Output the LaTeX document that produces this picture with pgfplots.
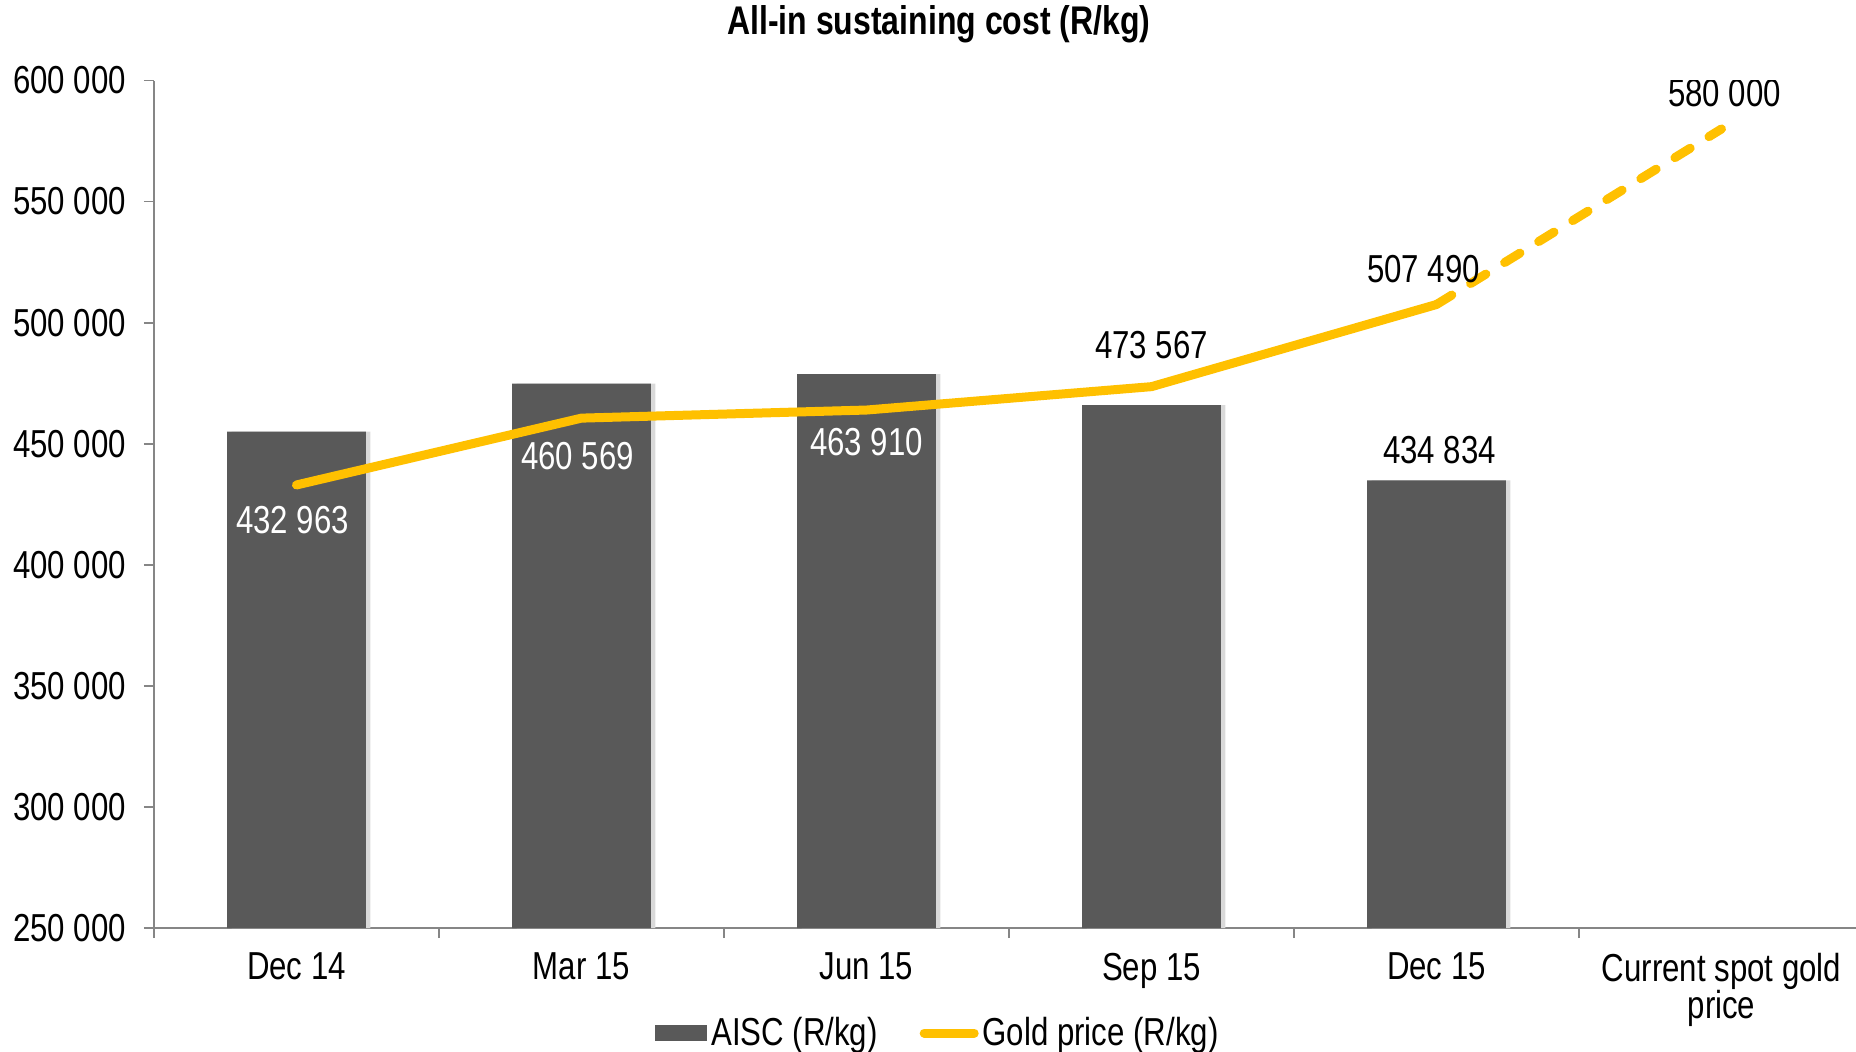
\documentclass[border=0pt]{standalone}
\usepackage{fontspec}
\setmainfont{Liberation Sans}[FakeStretch=0.8]
\usepackage{pgfplots}
\pgfplotsset{compat=1.18}
\definecolor{barc}{HTML}{595959}
\definecolor{goldc}{HTML}{FFC000}
\definecolor{axisc}{HTML}{868686}
\newcommand{\lab}{\fontsize{19.5}{18.5}\selectfont}
\begin{document}
\begin{tikzpicture}
\useasboundingbox (-77pt,-61.5pt) rectangle (851pt,464pt);
\begin{axis}[
  at={(0pt,0pt)}, anchor=south west,
  scale only axis, width=855pt, height=423.75pt,
  xmin=-0.5, xmax=5.5, ymin=250000, ymax=600000,
  scaled y ticks=false,
  axis lines=left,
  axis line style={-, draw=axisc, line width=0.9pt},
  tick align=outside,
  xtick={0,1,2,3,4,5},
  xticklabels={Dec 14, Mar 15, Jun 15, Sep 15, Dec 15, {Current spot gold\\price}},
  minor xtick={-0.5,0.5,1.5,2.5,3.5,4.5,5.5},
  major x tick style={draw=none},
  minor x tick style={draw=axisc, line width=0.9pt},
  minor tick length=5pt,
  major tick length=5pt,
  ytick={250000,300000,350000,400000,450000,500000,550000,600000},
  yticklabels={250 000,300 000,350 000,400 000,450 000,500 000,550 000,600 000},
  y tick style={draw=axisc, line width=0.9pt},
  xticklabel style={font=\lab, align=center, text=black, yshift=-4pt},
  yticklabel style={font=\lab, text=black, xshift=-5.5pt},
  title={All-in sustaining cost (R/kg)},
  title style={font=\bfseries\fontsize{20}{24}\selectfont, at={(0.459,1)}, anchor=base, yshift=17pt},
  legend style={at={(0.459,-0.124)}, anchor=center, draw=none, fill=none,
    legend columns=2, font=\lab, inner sep=0pt,
    /tikz/every even column/.append style={column sep=19pt}},
  legend cell align=left,
]
% bar shadow
\addplot[ybar, bar width=0.487, bar shift=2.2pt, fill=black!15, draw=none, forget plot]
  coordinates {(0,455000) (1,474800) (2,478700) (3,465900) (4,434834)};
% bars
\addplot[ybar, bar width=0.487, bar shift=0pt, fill=barc, draw=none,
  legend image code/.code={\fill[barc] (0pt,-4.2pt) rectangle (26pt,4.2pt);}]
  coordinates {(0,455000) (1,474800) (2,478700) (3,465900) (4,434834)};
\addlegendentry{AISC (R/kg)}
% gold price solid
\addplot[goldc, line width=4.5pt, line cap=round, line join=round, mark=none,
  legend image code/.code={\draw[goldc, line width=4.5pt, line cap=round] (2.25pt,0pt) -- (27.25pt,0pt);}]
  coordinates {(0,432963) (1,460569) (2,463910) (3,473567) (4,507490)};
\addlegendentry{Gold price (R/kg)}
% gold price dashed (current spot)
\addplot[goldc, line width=4.5pt, line cap=round, dash pattern=on 9pt off 11pt, mark=none, forget plot]
  coordinates {(4,507490) (5,580000)};
% data labels
\node[font=\lab, text=white, anchor=base, xshift=-2pt, yshift=-24.5pt] at (axis cs:0,432963) {432 963};
\node[font=\lab, text=white, anchor=base, xshift=-2pt, yshift=-25.5pt] at (axis cs:1,460569) {460 569};
\node[font=\lab, text=white, anchor=base, yshift=-22.5pt] at (axis cs:2,463910) {463 910};
\node[font=\lab, text=black, anchor=base, yshift=14pt] at (axis cs:3,473567) {473 567};
\node[font=\lab, text=black, anchor=base, xshift=-6.5pt, yshift=11pt] at (axis cs:4,507490) {507 490};
\node[font=\lab, text=black, anchor=base, xshift=1.5pt, yshift=11pt] at (axis cs:5,580000) {580 000};
\node[font=\lab, text=black, anchor=base, xshift=1.5pt, yshift=8.5pt] at (axis cs:4,434834) {434 834};
\end{axis}
\end{tikzpicture}
\end{document}
